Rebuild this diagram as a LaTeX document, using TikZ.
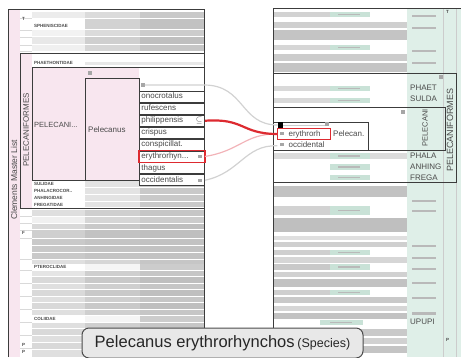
\documentclass[tikz,border=0pt]{standalone}
\usepackage{fontspec}
\setmainfont{Liberation Sans}
\usetikzlibrary{positioning}
\definecolor{pinkbg}{HTML}{F8E6EF}
\definecolor{mintbg}{HTML}{DFEFE8}
\definecolor{minttag}{HTML}{C9E2D7}
\definecolor{framegray}{HTML}{3C3C3C}
\definecolor{txtgray}{HTML}{4A4A4A}
\definecolor{selred}{HTML}{DD2A30}
\definecolor{softred}{HTML}{F2B3B8}
\tikzset{
  frame/.style={draw=framegray,line width=1pt},
  species/.style={draw=framegray,line width=0.9pt,fill=white,minimum width=65pt,minimum height=11pt,inner sep=0pt,text width=61pt,align=left,text height=6pt,text depth=2pt,font=\fontsize{8}{9}\selectfont,text=txtgray},
  tiny/.style={font=\fontsize{4.5}{5}\selectfont\bfseries,text=txtgray,inner sep=0pt,anchor=west},
  orderlbl/.style={rotate=90,text=txtgray,inner sep=0pt},
  codelbl/.style={font=\fontsize{8}{9}\selectfont,text=txtgray,inner sep=0pt,anchor=west},
  marker/.style={fill=gray!70,minimum size=3.5pt,inner sep=0pt},
  link/.style={line width=1.2pt,draw=gray!35}
}
\begin{document}
\begin{tikzpicture}[x=1pt,y=-1pt]
\useasboundingbox (0,0) rectangle (461,357);
% left panel
\fill[pinkbg] (8,9) rectangle (20,357);
\foreach \y/\h/\b/\c/\d in {12/6/15/28/42,19/10/0/35/48,30/6/10/28/40,37/7/18/38/50,45/6/12/32/45,
  210/6/25/38/45,217/6/12/32/40,224/5/30/42/50,230/8/38/48/50,239/6/42/46/48,246/6/42/46/48,
  253/6/42/46/48,260/4/25/32/45,264/6/0/8/40,271/5/20/38/45,277/6/30/42/50,284/5/25/38/45,
  290/6/30/42/50,297/5/25/38/45,303/6/30/42/50,310/5/25/38/45,316/6/0/8/40,323/5/25/38/45,
  329/6/30/42/50,336/6/25/38/45,343/6/30/42/50,350/7/25/38/45}
{
  \fill[gray!\b] (32,\y) rectangle (85,\y+\h);
  \fill[gray!\c] (85,\y) rectangle (140,\y+\h);
  \fill[gray!\d] (140,\y) rectangle (204,\y+\h);
}
\foreach \y in {18,30,37,45,51,216,223,230,238,259,270,283,296,309,322,335,348}
  \draw[gray!30] (20,\y) -- (32,\y);
\draw[frame] (8,357) -- (8,9) -- (204,9) -- (204,357);
\node[orderlbl,font=\fontsize{8.5}{9}\selectfont] (clements) at (14,180) {Clements Master List};
\node[tiny] (ordT) at (22,19) {T};
\node[tiny] (ordF) at (22,233) {F};
\node[tiny] (ordP1) at (22,345) {P};
\node[tiny] (ordP2) at (22,352) {P};
% pelecaniformes, left
\fill[white] (20,53) rectangle (204,208);
\fill[pinkbg] (20,53) rectangle (32,208);
\foreach \y/\h/\b/\c/\d in {181/6/0/22/42,188/6/0/22/42,195/6/0/22/42,202/5/0/22/42}
{
  \fill[gray!\b] (32,\y) rectangle (85,\y+\h);
  \fill[gray!\c] (85,\y) rectangle (140,\y+\h);
  \fill[gray!\d] (140,\y) rectangle (204,\y+\h);
}
\fill[gray!18] (85,62) rectangle (204,65);
\fill[pinkbg] (32,67) rectangle (139,180);
\draw[frame] (20,53) rectangle (204,208);
\draw[frame] (32,67) rectangle (204,180);
\draw[frame] (85,78) rectangle (139,180);
\node[orderlbl,font=\fontsize{8}{9}\selectfont] (pelLeft) at (26,130) {PELECANIFORMES};
\node[tiny] (phaethontidae) at (34,63) {PHAETHONTIDAE};
\node[tiny] (spheniscidae) at (34,26) {SPHENISCIDAE};
\node[tiny] (sulidae) at (34,184) {SULIDAE};
\node[tiny] (phalacrocor) at (34,191) {PHALACROCOR..};
\node[tiny] (anhingidae) at (34,198) {ANHINGIDAE};
\node[tiny] (fregatidae) at (34,205) {FREGATIDAE};
\node[tiny] (pteroclidae) at (34,267) {PTEROCLIDAE};
\node[tiny] (coliidae) at (34,319) {COLIIDAE};
\node[text=txtgray,font=\fontsize{7.5}{8}\selectfont,inner sep=0pt,anchor=west] (pelecani) at (34,125) {PELECANI...};
\node[text=txtgray,font=\fontsize{8}{9}\selectfont,inner sep=0pt,anchor=west] (pelecanus) at (88,130) {Pelecanus};
\node[marker] (mkGenus) at (90,73) {};
\node[marker] (mkSpecies) at (143,85) {};
\node[species,anchor=north west] (onocrotalus) at (139,91) {onocrotalus};
\node[species,below=0pt of onocrotalus] (rufescens) {rufescens};
\node[species,below=0pt of rufescens] (philippensis) {philippensis\hfill$\subseteq$};
\node[species,below=0pt of philippensis] (crispus) {crispus};
\node[species,below=0pt of crispus] (conspicillat) {conspicillat.};
\node[species,below=0pt of conspicillat] (erythrorhyn) {erythrorhyn...};
\node[species,below=0pt of erythrorhyn] (thagus) {thagus};
\node[species,below=0pt of thagus] (occidentalis) {occidentalis};
\draw[selred,line width=1.2pt] (erythrorhyn.north west) rectangle (erythrorhyn.south east);
\node[marker,left=3pt of erythrorhyn.east] (mkEry) {};
\node[marker,left=3pt of occidentalis.east] (mkOcc) {};
% right panel
\fill[mintbg] (407,8) rectangle (461,357);
\foreach \y/\h/\l/\s in {12/5/330/35,22/6/407/38,30/10/407/46,45/5/330/32,54/7/407/40,63/9/407/46,
  186/11/407/48,206/9/370/35,218/14/407/50,236/4/407/25,242/5/407/38,250/5/330/38,257/6/407/32,
  264/6/330/42,272/5/407/36,279/8/407/48,290/5/330/38,297/6/407/42,306/5/407/32,313/6/407/48,
  329/7/407/42,338/6/407/36,346/7/407/46}
  \fill[gray!\s] (273,\y) rectangle (\l,\y+\h);
\foreach \y in {15,27,50,62,200,210,245,257,268,282,297,312}
  \fill[gray!55] (412,\y) rectangle (436,\y+1.6);
\draw[gray!40] (443,8) -- (443,357);
\draw[gray!40] (456,8) -- (456,357);
\draw[frame] (273,357) -- (273,8) -- (461,8);
\node[tiny] (ordTR) at (446,12) {T};
\node[tiny] (ordPR) at (446,340) {P};
% pelecaniformes, right
\fill[white] (273,73) rectangle (407,182);
\foreach \y/\h/\l/\s in {86/5/330/30,98/5/330/30,153/6/407/28}
  \fill[gray!\s] (273,\y) rectangle (\l,\y+\h);
\foreach \y/\h in {12/5,45/5,86/5,98/5,153/6,164/6,175/5,206/9,250/5,264/6,290/5}
{
  \fill[minttag] (330,\y) rectangle (370,\y+\h);
  \fill[gray!55] (338,\y+\h/2-0.6) rectangle (360,\y+\h/2+0.6);
}
\fill[minttag] (320,320) rectangle (363,325);
\fill[gray!55] (330,322) rectangle (352,323.2);
\draw[frame] (273,73) rectangle (456,182);
\draw[frame] (273,107) rectangle (445,150);
\draw[frame] (273,122) rectangle (368,150);
\node[marker] (mkOrderR) at (441,77) {};
\node[marker] (mkFamR) at (403,112) {};
\node[orderlbl,font=\fontsize{9}{10}\selectfont] (pelRight) at (450,130) {PELECANIFORMES};
\node[orderlbl,font=\fontsize{7.5}{8}\selectfont] (pelecaniR) at (425,128) {PELECANI};
\node[codelbl] (phaet) at (410,88) {PHAET};
\node[codelbl] (sulda) at (410,99) {SULDA};
\node[codelbl] (phala) at (410,156) {PHALA};
\node[codelbl] (anhing) at (410,167) {ANHING};
\node[codelbl] (frega) at (410,178) {FREGA};
\node[codelbl] (upupi) at (410,322) {UPUPI};
\fill[gray!55] (412,313) rectangle (436,314.6);
\node[fill=black,minimum size=5.5pt,inner sep=0pt] (rBlack) at (280.5,125) {};
\draw[gray!40,line width=1pt] (rBlack.east) -- (325,125);
\node[marker] (mkTopR) at (327,124) {};
\node[draw=selred,line width=1.1pt,fill=white,anchor=north west,minimum width=53pt,minimum height=11pt,inner sep=0pt,text width=53pt,text height=6pt,text depth=2pt,font=\fontsize{8}{9}\selectfont,text=txtgray] (rEry) at (277,128) {\hspace*{11pt}erythrorh};
\node[minimum width=53pt,minimum height=11pt,inner sep=0pt,text width=53pt,text height=6pt,text depth=2pt,font=\fontsize{8}{9}\selectfont,text=txtgray,below=0pt of rEry] (rOcc) {\hspace*{11pt}occidental};
\node[marker] (mkEryR) at (282,133.5) {};
\node[marker] (mkOccR) at (282,144.5) {};
\node[codelbl] (rPel) at (333,134) {Pelecan.};
% connectors
\draw[link] (mkSpecies.east) -- (204,85) .. controls (245,85) and (240,125) .. (rBlack.west);
\draw[link] (occidentalis.east) .. controls (240,173) and (245,144.5) .. (rOcc.west);
\draw[softred,line width=1.2pt] (erythrorhyn.east) .. controls (240,151) and (245,133.5) .. (rEry.west);
\draw[selred,line width=2.2pt] (philippensis.east) .. controls (245,118) and (240,133.5) .. (rEry.west);
% name label
\node[draw=gray!60!black,fill=gray!18,rounded corners=7pt,line width=1pt,minimum width=281pt,minimum height=30pt,text=black!85] (nameLbl) at (222.5,343) {{\fontsize{16.5}{18}\selectfont Pelecanus erythrorhynchos} {\fontsize{12.5}{14}\selectfont (Species)}};
\end{tikzpicture}
\end{document}
